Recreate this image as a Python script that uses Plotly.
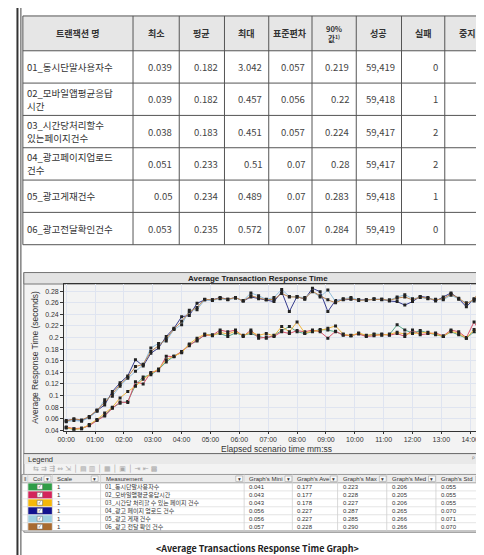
import plotly.graph_objects as go

W, H = 484, 555
KR = "Noto Sans CJK KR"
AR = "Liberation Sans"


def px(x):
    return x / W


def py(y):
    return 1 - y / H


# ---- summary table (top) ----
HEADERS = ["트랜잭션 명", "최소", "평균", "최대", "표준편차", "90%<br>값<sup>1)</sup>", "성공", "실패", "중지"]
TX_NAMES = [
    "01_동시단말사용자수",
    "02_모바일앱평균응답<br>시간",
    "03_시간당처리할수<br>있는페이지건수",
    "04_광고페이지업로드<br>건수",
    "05_광고게재건수",
    "06_광고전달확인건수",
]
TX_MIN = ["0.039", "0.039", "0.038", "0.051", "0.05", "0.053"]
TX_AVG = ["0.182", "0.182", "0.183", "0.233", "0.234", "0.235"]
TX_MAX = ["3.042", "0.457", "0.451", "0.51", "0.489", "0.572"]
TX_STD = ["0.057", "0.056", "0.057", "0.07", "0.07", "0.07"]
TX_P90 = ["0.219", "0.22", "0.224", "0.28", "0.283", "0.284"]
TX_PASS = ["59,419", "59,418", "59,417", "59,417", "59,418", "59,419"]
TX_FAIL = ["0", "1", "2", "2", "1", "0"]
TX_STOP = ["0", "0", "0", "0", "0", "0"]

# ---- response time series (16 s granularity) ----
ELAPSED_SEC = [
    0, 16, 32, 48, 64, 80, 96, 112, 128, 144, 160, 176, 192, 208, 224, 240,
    256, 272, 288, 304, 320, 336, 352, 368, 384, 400, 416, 432, 448, 464, 480, 496,
    512, 528, 544, 560, 576, 592, 608, 624, 640, 656, 672, 688, 704, 720, 736, 752,
    768, 784, 800, 816, 832, 848, 864, 880,
]
S01 = [0.044, 0.042, 0.043, 0.049, 0.058, 0.066, 0.079, 0.087, 0.090, 0.118, 0.132, 0.136, 0.145, 0.158,
       0.168, 0.175, 0.188, 0.194, 0.205, 0.205, 0.207, 0.202, 0.208, 0.204, 0.207, 0.202, 0.199, 0.204,
       0.212, 0.219, 0.210, 0.207, 0.210, 0.214, 0.213, 0.210, 0.205, 0.203, 0.207, 0.203, 0.206, 0.205,
       0.205, 0.222, 0.213, 0.208, 0.212, 0.208, 0.205, 0.202, 0.210, 0.205, 0.199, 0.210, 0.202, 0.213]
S02 = [0.046, 0.043, 0.044, 0.048, 0.057, 0.065, 0.078, 0.089, 0.088, 0.124, 0.120, 0.140, 0.143, 0.168,
       0.167, 0.176, 0.186, 0.196, 0.204, 0.204, 0.213, 0.210, 0.213, 0.202, 0.213, 0.199, 0.201, 0.202,
       0.210, 0.207, 0.212, 0.210, 0.213, 0.210, 0.199, 0.211, 0.204, 0.204, 0.206, 0.202, 0.203, 0.206,
       0.204, 0.207, 0.202, 0.213, 0.205, 0.207, 0.208, 0.203, 0.213, 0.210, 0.200, 0.227, 0.205, 0.207]
S03 = [0.045, 0.042, 0.043, 0.050, 0.059, 0.070, 0.080, 0.096, 0.107, 0.116, 0.128, 0.138, 0.146, 0.162,
       0.168, 0.174, 0.189, 0.199, 0.206, 0.203, 0.209, 0.206, 0.211, 0.203, 0.210, 0.204, 0.207, 0.203,
       0.219, 0.210, 0.227, 0.208, 0.211, 0.212, 0.216, 0.220, 0.206, 0.203, 0.208, 0.204, 0.205, 0.204,
       0.206, 0.209, 0.206, 0.207, 0.208, 0.209, 0.206, 0.202, 0.211, 0.207, 0.199, 0.214, 0.210, 0.210]
S04 = [0.057, 0.059, 0.057, 0.063, 0.074, 0.084, 0.107, 0.122, 0.134, 0.162, 0.151, 0.173, 0.182, 0.202,
       0.216, 0.236, 0.238, 0.259, 0.265, 0.265, 0.269, 0.266, 0.269, 0.263, 0.270, 0.267, 0.265, 0.262,
       0.279, 0.245, 0.271, 0.266, 0.285, 0.279, 0.245, 0.264, 0.265, 0.266, 0.265, 0.265, 0.266, 0.266,
       0.263, 0.262, 0.256, 0.262, 0.271, 0.269, 0.263, 0.270, 0.277, 0.267, 0.253, 0.267, 0.267, 0.247]
S05 = [0.055, 0.057, 0.056, 0.062, 0.073, 0.093, 0.099, 0.116, 0.130, 0.142, 0.153, 0.182, 0.190, 0.194,
       0.214, 0.222, 0.247, 0.248, 0.265, 0.264, 0.267, 0.265, 0.268, 0.264, 0.277, 0.272, 0.266, 0.269,
       0.283, 0.271, 0.270, 0.269, 0.279, 0.270, 0.282, 0.262, 0.267, 0.269, 0.265, 0.264, 0.267, 0.265,
       0.265, 0.270, 0.274, 0.267, 0.269, 0.267, 0.266, 0.265, 0.273, 0.266, 0.260, 0.263, 0.266, 0.252]
S06 = [0.056, 0.060, 0.058, 0.064, 0.075, 0.088, 0.103, 0.119, 0.132, 0.150, 0.154, 0.176, 0.186, 0.198,
       0.215, 0.228, 0.244, 0.252, 0.266, 0.265, 0.268, 0.266, 0.269, 0.263, 0.272, 0.269, 0.265, 0.266,
       0.276, 0.270, 0.270, 0.267, 0.280, 0.272, 0.265, 0.260, 0.266, 0.267, 0.264, 0.265, 0.266, 0.266,
       0.264, 0.268, 0.270, 0.265, 0.270, 0.268, 0.265, 0.267, 0.275, 0.268, 0.258, 0.266, 0.287, 0.250]

SERIES = [S01, S02, S03, S04, S05, S06]
LINE_COLORS = ["#5aa98a", "#d9546e", "#efb43c", "#353b8c", "#93bfdc", "#b98450"]
CHIP_COLORS = ["#2f9d47", "#d3245b", "#f5b70a", "#12128f", "#9fcfe0", "#a86a30"]

Y_TICKS = [0.04, 0.06, 0.08, 0.1, 0.12, 0.14, 0.16, 0.18, 0.2, 0.22, 0.24, 0.26, 0.28]
Y_TICK_TEXT = ["0.04", "0.06", "0.08", "0.1", "0.12", "0.14", "0.16", "0.18", "0.2", "0.22", "0.24", "0.26", "0.28"]
X_TICKS = [0, 1, 2, 3, 4, 5, 6, 7, 8, 9, 10, 11, 12, 13, 14]
X_TICK_TEXT = ["00:00", "01:00", "02:00", "03:00", "04:00", "05:00", "06:00", "07:00",
               "08:00", "09:00", "10:00", "11:00", "12:00", "13:00", "14:00"]

# ---- legend grid (bottom) ----
LEG_HEADERS = ["Col", "Scale", "Measurement", "Graph's Mini", "Graph's Ave", "Graph's Max",
               "Graph's Med", "Graph's Std"]
LEG_NAMES = [
    "01_동시단말사용자수",
    "02_모바일앱평균응답시간",
    "03_시간당 처리할 수 있는 페이지 건수",
    "04_광고 페이지 업로드 건수",
    "05_광고 게재 건수",
    "06_광고 전달 확인 건수",
]
LEG_SCALE = ["1", "1", "1", "1", "1", "1"]
LEG_MIN = ["0.041", "0.043", "0.043", "0.056", "0.056", "0.057"]
LEG_AVG = ["0.177", "0.177", "0.178", "0.227", "0.227", "0.228"]
LEG_MAX = ["0.223", "0.228", "0.227", "0.287", "0.285", "0.290"]
LEG_MED = ["0.206", "0.205", "0.206", "0.265", "0.266", "0.266"]
LEG_STD = ["0.055", "0.055", "0.055", "0.070", "0.071", "0.070"]

shapes = []
annotations = []


def line(x0, y0, x1, y1, color="#555", width=1):
    shapes.append(dict(type="line", xref="paper", yref="paper", x0=px(x0), y0=py(y0),
                       x1=px(x1), y1=py(y1), line=dict(color=color, width=width)))


def box(x0, y0, x1, y1, fill, color=None, width=0, layer="below"):
    shapes.append(dict(type="rect", xref="paper", yref="paper", x0=px(x0), y0=py(y0),
                       x1=px(x1), y1=py(y1), fillcolor=fill, layer=layer,
                       line=dict(color=color or fill, width=width)))


def label(x, y, text, size, anchor="center", color="#333", family=KR, **kw):
    annotations.append(dict(xref="paper", yref="paper", x=px(x), y=py(y), text=text,
                            showarrow=False, xanchor=anchor, yanchor="middle",
                            font=dict(family=family, size=size, color=color), **kw))


# page frame (double rule on the left)
line(2.5, 0, 2.5, 555, "#333", 2)
line(6, 0, 6, 555, "#444", 1)

# top table
COL_X = [8, 120, 167, 213, 258, 302, 347, 393, 437, 483]
ROW_Y = [8, 43, 75.5, 108, 140.5, 173, 205.5, 238]
box(COL_X[0], ROW_Y[0], COL_X[-1], ROW_Y[1], "#e6e6e6")
for yy in ROW_Y:
    line(COL_X[0], yy, COL_X[-1], yy, "#555", 1)
for xx in COL_X:
    line(xx, ROW_Y[0], xx, ROW_Y[-1], "#555", 1)

for c, head in enumerate(HEADERS):
    cx = (COL_X[c] + COL_X[c + 1]) / 2
    label(cx, (ROW_Y[0] + ROW_Y[1]) / 2, "<b>" + head + "</b>", 7.5 if c == 5 else 9, color="#333")

num_cols = [TX_MIN, TX_AVG, TX_MAX, TX_STD, TX_P90, TX_PASS, TX_FAIL, TX_STOP]
for r in range(len(TX_NAMES)):
    cy = (ROW_Y[r + 1] + ROW_Y[r + 2]) / 2
    parts = TX_NAMES[r].split("<br>")
    for k, part in enumerate(parts):
        label(COL_X[0] + 3, cy + (k - (len(parts) - 1) / 2) * 13, part, 9.5,
              anchor="left", color="#333", borderpad=0)
    for c, col in enumerate(num_cols):
        label(COL_X[c + 2] - 5, cy, col[r], 9.5, anchor="right", color="#444")

# chart panel
PANEL_BOTTOM = 527
box(9, 266, 490, PANEL_BOTTOM, "#f3f3f3", "#777", 1)
box(9, 266, 490, 277.5, "#e3e3e3", "#777", 1)
line(9, 448, 490, 448, "#666", 1)
box(9.5, 448.5, 489, 458.5, "#e9e9e9")
label(247, 271.8, "<b>Average Transaction Response Time</b>", 8, family=AR, color="#222")
label(266, 443, "Elapsed scenario time mm:ss", 8.5, family=AR)
label(20, 351, "Average Response Time (seconds)", 8.5, family=AR, textangle=-90)
label(11, 453.5, "Legend", 7.5, anchor="left", family=AR)
label(478, 453.5, "ᵖ ×", 7, anchor="right", family="DejaVu Sans", color="#777")
label(16, 463.5, "⇆ ⇉ ⇶ ⇔ ⇲ │ ▤ ▥ │ ▦ │ ▣ │ ⇥ ⇤ ▩", 7, anchor="left",
      family="DejaVu Sans", color="#a8a8a8")

fig = go.Figure()
for name, vals, lc in zip(LEG_NAMES, SERIES, LINE_COLORS):
    fig.add_trace(go.Scatter(
        x=[s / 60 for s in ELAPSED_SEC],
        y=vals,
        mode="lines+markers",
        name=name,
        line=dict(color=lc, width=1),
        marker=dict(symbol="square", size=3, color="#222"),
        showlegend=False,
    ))

# legend grid
LX = [7, 13, 38, 87, 233, 282, 328, 378, 428, 477]
LY = [469, 477.5, 485.5, 493.5, 501.5, 509.5, 517.5, 525.5]
ARROW_X = [33, 81, 228, 278, 324, 374, 424, 472]
box(LX[0], LY[0], LX[-1], LY[1], "#ececec", "#9a9a9a", 1)
box(LX[0], LY[1], LX[-1], LY[-1], "white", "#bdbdbd", 1)
for yy in LY[2:-1]:
    line(LX[0], yy, LX[-1], yy, "#dddddd", 0.8)
for xx in LX[1:-1]:
    line(xx, LY[0], xx, LY[-1], "#cfcfcf", 0.8)
label(10, (LY[0] + LY[1]) / 2, "‖", 6, family=AR, color="#555")
for c, head in enumerate(LEG_HEADERS):
    label(LX[c + 1] + 3, (LY[0] + LY[1]) / 2, head, 6, anchor="left", family=AR, color="#333")
for ax in ARROW_X:
    box(ax - 3.5, LY[0] + 1.5, ax + 3.5, LY[1] - 1.5, "#fafafa", "#a5a5a5", 0.6, layer="above")
    label(ax, (LY[0] + LY[1]) / 2, "▾", 5.5, family="DejaVu Sans", color="#333")

leg_cols = [LEG_MIN, LEG_AVG, LEG_MAX, LEG_MED, LEG_STD]
for r in range(len(LEG_NAMES)):
    y0, y1 = LY[r + 1], LY[r + 2]
    cy = (y0 + y1) / 2
    box(LX[1] + 0.5, y0 + 0.5, LX[2] - 0.5, y1 - 0.5, CHIP_COLORS[r], layer="above")
    box(22.5, cy - 2.4, 28, cy + 2.4, "white", "#666", 0.5, layer="above")
    label(25.2, cy, "✓", 4.5, family="DejaVu Sans", color="#222")
    label(LX[2] + 3, cy, LEG_SCALE[r], 6, anchor="left", family=AR)
    label(LX[3] + 2, cy, LEG_NAMES[r], 6, anchor="left")
    for c, col in enumerate(leg_cols):
        label(LX[c + 4] + 3, cy, col[r], 6, anchor="left", family=AR)

label(247, 543, "<b>&lt;Average Transactions Response Time Graph&gt;</b>", 9, family=KR, color="#222")

fig.update_layout(
    width=W,
    height=H,
    margin=dict(l=0, r=0, t=0, b=0),
    paper_bgcolor="white",
    plot_bgcolor="white",
    showlegend=False,
    shapes=shapes,
    annotations=annotations,
    xaxis=dict(
        domain=[px(50), 1],
        range=[-0.07, 14.72],
        tickvals=X_TICKS,
        ticktext=X_TICK_TEXT,
        tickfont=dict(family=AR, size=7, color="#333"),
        ticks="outside",
        ticklen=2,
        tickcolor="#333",
        showgrid=True,
        gridcolor="#dfe4f0",
        showline=True,
        linecolor="#333",
        linewidth=1,
        mirror=True,
        zeroline=False,
    ),
    yaxis=dict(
        domain=[py(425), py(278)],
        range=[0.0395, 0.2915],
        tickvals=Y_TICKS,
        ticktext=Y_TICK_TEXT,
        tickfont=dict(family=AR, size=7, color="#333"),
        ticks="outside",
        ticklen=3,
        tickcolor="#333",
        showgrid=True,
        gridcolor="#dfe4f0",
        showline=True,
        linecolor="#333",
        linewidth=1,
        mirror=True,
        zeroline=False,
    ),
)

fig.write_html("out.html")
